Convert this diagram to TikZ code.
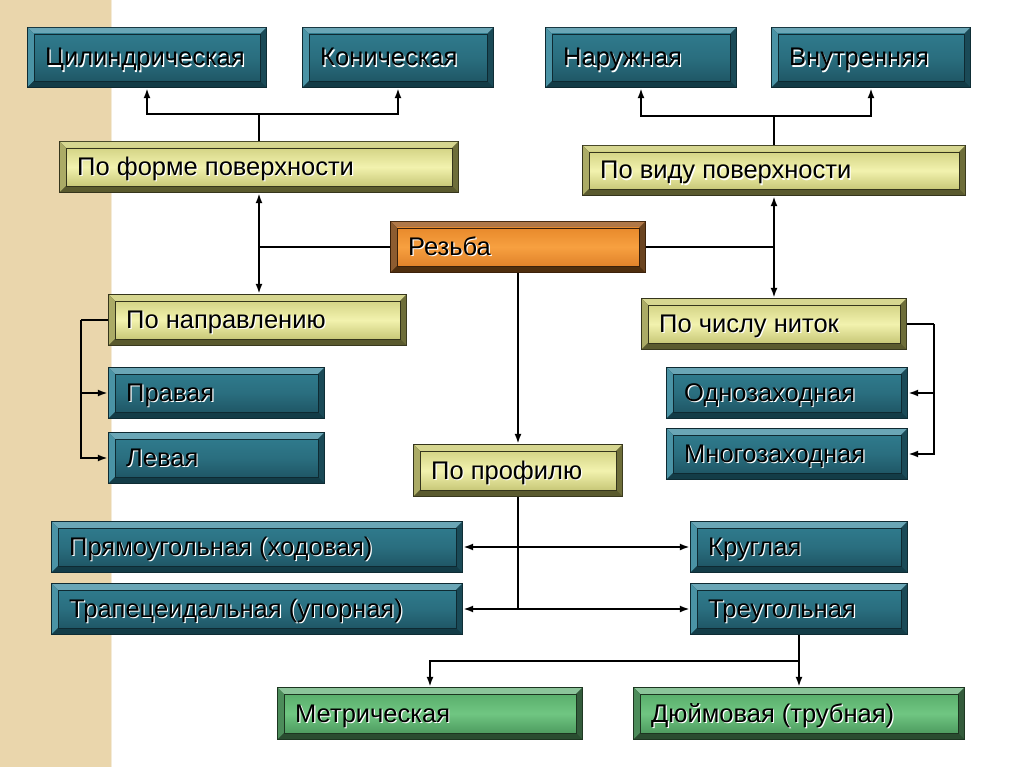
\documentclass[tikz,border=0pt]{standalone}
\usepackage{fontspec}
\setmainfont{Liberation Sans}
\usetikzlibrary{arrows.meta,calc}
% teal
\definecolor{Tbd}{HTML}{0E2A32}
\definecolor{Ttop}{HTML}{6AA6B6}
\definecolor{Tlft}{HTML}{4A93A5}
\definecolor{Tbot}{HTML}{133C47}
\definecolor{Trgt}{HTML}{1A4A57}
\definecolor{Ta}{HTML}{2F7A8C}
\definecolor{Tc}{HTML}{2A6E7F}
\definecolor{Tb}{HTML}{1F5766}
% yellow
\definecolor{Ybd}{HTML}{35351C}
\definecolor{Ytop}{HTML}{D6D690}
\definecolor{Ylft}{HTML}{ABAB66}
\definecolor{Ybot}{HTML}{5A5A2E}
\definecolor{Yrgt}{HTML}{6E6E3A}
\definecolor{Ya}{HTML}{D4D486}
\definecolor{Yc}{HTML}{F2F2AE}
\definecolor{Yb}{HTML}{C8C878}
% orange
\definecolor{Obd}{HTML}{3A200A}
\definecolor{Otop}{HTML}{B07848}
\definecolor{Olft}{HTML}{8D5C30}
\definecolor{Obot}{HTML}{4E2E0E}
\definecolor{Orgt}{HTML}{6B4420}
\definecolor{Oa}{HTML}{E88A2C}
\definecolor{Oc}{HTML}{F7A040}
\definecolor{Ob}{HTML}{E0822A}
% green
\definecolor{Gbd}{HTML}{1C3520}
\definecolor{Gtop}{HTML}{8CC49A}
\definecolor{Glft}{HTML}{4C8C5A}
\definecolor{Gbot}{HTML}{2A4C30}
\definecolor{Grgt}{HTML}{345C3C}
\definecolor{Ga}{HTML}{5AAE6C}
\definecolor{Gc}{HTML}{70C682}
\definecolor{Gb}{HTML}{4E9C60}
\definecolor{stripe}{HTML}{EAD6AC}
\definecolor{stripeln}{HTML}{F4EBD8}
\tikzset{
  txt/.style={anchor=base west, inner sep=0pt, font=\fontsize{25.5}{29}\selectfont},
  lnk/.style={line width=2pt, draw=black},
  lnkA/.style={lnk, -{Latex[length=10pt,width=7pt]}},
  lnkAA/.style={lnk, {Latex[length=10pt,width=7pt]}-{Latex[length=10pt,width=7pt]}},
}
\newcommand\bbox[7]{%
  \node[inner sep=0pt,minimum width={#4-#2},minimum height={#5-#3}] (#1) at ({(#2+#4)/2},{(#3+#5)/2}) {};
  \fill[#6bd] (#2,#3) rectangle (#4,#5);
  \fill[#6top] (#2+1,#3+1) -- (#4-1,#3+1) -- (#4-7,#3+7) -- (#2+7,#3+7) -- cycle;
  \fill[#6lft] (#2+1,#3+1) -- (#2+7,#3+7) -- (#2+7,#5-7) -- (#2+1,#5-1) -- cycle;
  \fill[#6bot] (#2+1,#5-1) -- (#2+7,#5-7) -- (#4-7,#5-7) -- (#4-1,#5-1) -- cycle;
  \fill[#6rgt] (#4-1,#3+1) -- (#4-1,#5-1) -- (#4-7,#5-7) -- (#4-7,#3+7) -- cycle;
  \shade[top color=#6a, bottom color=#6b, middle color=#6c] (#2+7,#3+7) rectangle (#4-7,#5-7);
  \draw[#6bd, line width=0.6pt] (#2+7,#3+7) rectangle (#4-7,#5-7);
  \node[txt, text=white] (#1s) at (#2+19.2,{(#3+#5)/2+9.7}) {#7};
  \node[txt] (#1t) at (#2+18,{(#3+#5)/2+8.5}) {#7};
}
\begin{document}
\begin{tikzpicture}[x=1pt,y=-1pt]
\useasboundingbox (0,0) rectangle (1024,767);
\fill[white] (0,0) rectangle (1024,767);
\fill[stripe] (0,0) rectangle (111,767);
\draw[stripeln, line width=1pt] (111.5,0) -- (111.5,767);

\bbox{cyl}{27}{27}{267}{88}{T}{Цилиндрическая}
\bbox{kon}{302}{27}{494}{88}{T}{Коническая}
\bbox{nar}{545}{27}{737}{88}{T}{Наружная}
\bbox{vnu}{771}{27}{971}{88}{T}{Внутренняя}
\bbox{forma}{59}{141}{459}{193}{Y}{По форме поверхности}
\bbox{vid}{582}{145}{966}{196}{Y}{По виду поверхности}
\bbox{rez}{390}{221}{646}{273}{O}{Резьба}
\bbox{napr}{108}{294}{407}{346}{Y}{По направлению}
\bbox{prav}{108}{367}{325}{419}{T}{Правая}
\bbox{lev}{108}{432}{325}{484}{T}{Левая}
\bbox{chis}{641}{298}{907}{350}{Y}{По числу ниток}
\bbox{odno}{666}{367}{908}{419}{T}{Однозаходная}
\bbox{mnog}{666}{428}{908}{480}{T}{Многозаходная}
\bbox{prof}{413}{444}{623}{497}{Y}{По профилю}
\bbox{pryam}{51}{521}{463}{573}{T}{Прямоугольная (ходовая)}
\bbox{trap}{51}{583}{463}{635}{T}{Трапецеидальная (упорная)}
\bbox{krug}{690}{521}{908}{573}{T}{Круглая}
\bbox{treug}{690}{583}{908}{635}{T}{Треугольная}
\bbox{metr}{277}{687}{583}{740}{G}{Метрическая}
\bbox{duim}{633}{687}{965}{740}{G}{Дюймовая (трубная)}

% top left
\coordinate (j1) at ($(forma.north)+(0,-27)$);
\draw[lnk] (forma.north) -- (j1);
\draw[lnkA] (j1) -| (cyl.south);
\draw[lnkA] (j1) -| (kon.south);
% top right
\coordinate (j2) at ($(vid.north)+(0,-29)$);
\draw[lnk] (vid.north) -- (j2);
\draw[lnkA] (j2) -| (nar.south);
\draw[lnkA] (j2) -| (vnu.south);
% Rezba sides
\draw[lnkAA] (forma.south) -- (forma.south |- napr.north);
\draw[lnk] (rez.west) -- (rez.west -| forma.south);
\draw[lnkAA] (vid.south) -- (vid.south |- chis.north);
\draw[lnk] (rez.east) -- (rez.east -| vid.south);
\draw[lnkA] (rez.south) -- (prof.north);
% napravleniyu
\coordinate (j3) at ($(napr.west)+(-27,0)$);
\draw[lnk] (napr.west) -- (j3);
\draw[lnkA] (j3) |- (prav.west);
\draw[lnkA] (j3) |- (lev.west);
% chislo
\coordinate (j4) at ($(chis.east)+(27,0)$);
\draw[lnk] (chis.east) -- (j4);
\draw[lnkA] (j4) |- (odno.east);
\draw[lnkA] (j4) |- (mnog.east);
% profil
\draw[lnk] (prof.south) -- (prof.south |- trap.east);
\draw[lnkAA] (pryam.east) -- (krug.west);
\draw[lnkAA] (trap.east) -- (treug.west);
% treug
\coordinate (j5) at ($(treug.south)+(0,26)$);
\draw[lnk] (treug.south) -- (j5);
\draw[lnkA] (j5) -| (metr.north);
\draw[lnkA] (j5) -- (duim.north);
\end{tikzpicture}
\end{document}
